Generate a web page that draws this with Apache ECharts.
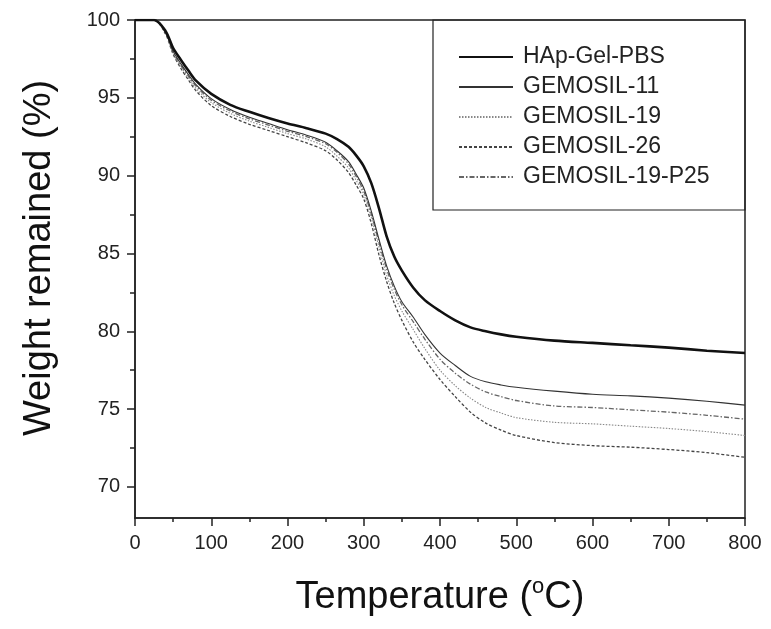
<!DOCTYPE html>
<html><head><meta charset="utf-8">
<script src="https://cdn.jsdelivr.net/npm/echarts@6/dist/echarts.min.js"></script>
<style>html,body{margin:0;padding:0;background:#fff}#c{width:771px;height:629px}</style>
</head><body><div id="c"></div>
<script>
const temperatures = [0, 25, 40, 50, 60, 70, 80, 100, 125, 150, 175, 200, 225, 250, 265, 280, 290, 300, 310, 320, 330, 340, 350, 365, 380, 400, 420, 440, 460, 480, 500, 550, 600, 650, 700, 750, 800];
const hapGelPbs  = [100, 100, 99.3, 98.2, 97.45, 96.75, 96.1, 95.25, 94.55, 94.1, 93.7, 93.35, 93.05, 92.7, 92.35, 91.85, 91.3, 90.6, 89.5, 87.9, 86.1, 84.8, 83.9, 82.8, 82.0, 81.3, 80.7, 80.25, 80.0, 79.8, 79.65, 79.4, 79.25, 79.1, 78.95, 78.75, 78.6];
const gemosil11  = [100, 100, 99.2, 98.0, 97.2, 96.5, 95.85, 94.95, 94.25, 93.75, 93.35, 92.95, 92.6, 92.15, 91.6, 90.9, 90.1, 89.2, 87.7, 85.9, 84.2, 82.9, 81.9, 80.9, 79.8, 78.6, 77.8, 77.1, 76.75, 76.55, 76.4, 76.15, 75.95, 75.85, 75.7, 75.5, 75.25];
const gemosil19  = [100, 100, 99.15, 97.9, 97.0, 96.3, 95.6, 94.7, 94.0, 93.5, 93.1, 92.7, 92.35, 91.85, 91.25, 90.5, 89.7, 88.8, 87.3, 85.4, 83.6, 82.3, 81.3, 80.1, 78.9, 77.5, 76.5, 75.7, 75.1, 74.75, 74.45, 74.15, 74.05, 73.9, 73.75, 73.55, 73.3];
const gemosil26  = [100, 100, 99.1, 97.8, 96.9, 96.15, 95.45, 94.5, 93.8, 93.3, 92.9, 92.5, 92.1, 91.6, 91.0, 90.2, 89.4, 88.5, 86.9, 84.9, 83.2, 81.8, 80.7, 79.3, 78.2, 76.9, 75.8, 74.8, 74.1, 73.65, 73.3, 72.85, 72.65, 72.55, 72.4, 72.2, 71.9];
const gemosil19P25 = [100, 100, 99.2, 97.95, 97.1, 96.4, 95.75, 94.85, 94.15, 93.65, 93.25, 92.85, 92.5, 92.05, 91.5, 90.75, 89.95, 89.0, 87.5, 85.7, 84.0, 82.7, 81.7, 80.6, 79.5, 78.2, 77.3, 76.6, 76.1, 75.8, 75.55, 75.2, 75.1, 74.95, 74.8, 74.6, 74.35];
const seriesNames = ['HAp-Gel-PBS', 'GEMOSIL-11', 'GEMOSIL-19', 'GEMOSIL-26', 'GEMOSIL-19-P25'];
const yTickValues = [70, 75, 80, 85, 90, 95, 100];
const yMinorTickValues = [72.5, 77.5, 82.5, 87.5, 92.5, 97.5];

const FONT = '"Liberation Sans", Arial, sans-serif';
const pairs = arr => temperatures.map((t, i) => [t, arr[i]]);
const styles = [
  {color: '#111', width: 2.6, type: 'solid'},
  {color: '#333', width: 1.1, type: 'solid'},
  {color: '#888', width: 1.1, type: [1.5, 1.5]},
  {color: '#444', width: 1.3, type: [3, 2]},
  {color: '#666', width: 1.3, type: [5, 2, 1.5, 2]}
];
const allData = [hapGelPbs, gemosil11, gemosil19, gemosil26, gemosil19P25];

const chart = echarts.init(document.getElementById('c'));
chart.setOption({
  animation: false,
  backgroundColor: '#fff',
  grid: {left: 135, top: 20, right: 26, bottom: 111, show: true, borderColor: '#222', borderWidth: 1.5, backgroundColor: 'transparent'},
  xAxis: {
    type: 'value', min: 0, max: 800, interval: 100,
    axisLine: {show: true, lineStyle: {color: '#222', width: 1.5}},
    axisTick: {show: true, inside: false, length: 8, lineStyle: {color: '#222', width: 1.5}},
    minorTick: {show: true, splitNumber: 2, length: 4, lineStyle: {color: '#222', width: 1.5}},
    splitLine: {show: false},
    axisLabel: {fontFamily: FONT, fontSize: 20, color: '#222', margin: 15}
  },
  yAxis: [{
    type: 'value', min: 68, max: 100,
    axisLine: {show: true, lineStyle: {color: '#222', width: 1.5}},
    axisTick: {show: true, inside: false, length: 8, customValues: yTickValues, lineStyle: {color: '#222', width: 1.5}},
    splitLine: {show: false},
    axisLabel: {fontFamily: FONT, fontSize: 20, color: '#222', margin: 15, customValues: yTickValues}
  }, {
    type: 'value', min: 68, max: 100, position: 'left',
    axisLine: {show: false},
    axisTick: {show: true, inside: false, length: 5, customValues: yMinorTickValues, lineStyle: {color: '#222', width: 1.5}},
    splitLine: {show: false},
    axisLabel: {show: false}
  }],
  legend: {
    orient: 'vertical', left: 458, top: 42, padding: 0, itemGap: 0,
    itemWidth: 54, itemHeight: 10,
    itemStyle: {opacity: 0, borderWidth: 0},
    textStyle: {fontFamily: FONT, fontSize: 23, color: '#222', lineHeight: 30, padding: [0, 0, 0, 5]},
    data: seriesNames
  },
  graphic: [
    {type: 'rect', shape: {x: 433, y: 20, width: 312, height: 190}, style: {fill: 'none', stroke: '#222', lineWidth: 1.2}, z: 50},
    {type: 'text', x: 440, y: 598, style: {text: 'Temperature ({s|o}C)', font: '38px ' + FONT, fill: '#111', textAlign: 'center', textVerticalAlign: 'middle',
      rich: {s: {fontSize: 22, fontFamily: FONT, fill: '#111', padding: [0, 0, 22, 0]}}}},
    {type: 'text', x: 40, y: 258, rotation: Math.PI / 2, style: {text: 'Weight remained (%)', font: '38px ' + FONT, fill: '#111', textAlign: 'center', textVerticalAlign: 'middle'}}
  ],
  series: allData.map((d, i) => ({
    name: seriesNames[i], type: 'line', data: pairs(d), smooth: 0.3,
    symbol: 'none', showSymbol: false,
    itemStyle: {color: styles[i].color},
    lineStyle: {color: styles[i].color, width: styles[i].width, type: styles[i].type},
    z: 10 - i
  }))
});
</script></body></html>
